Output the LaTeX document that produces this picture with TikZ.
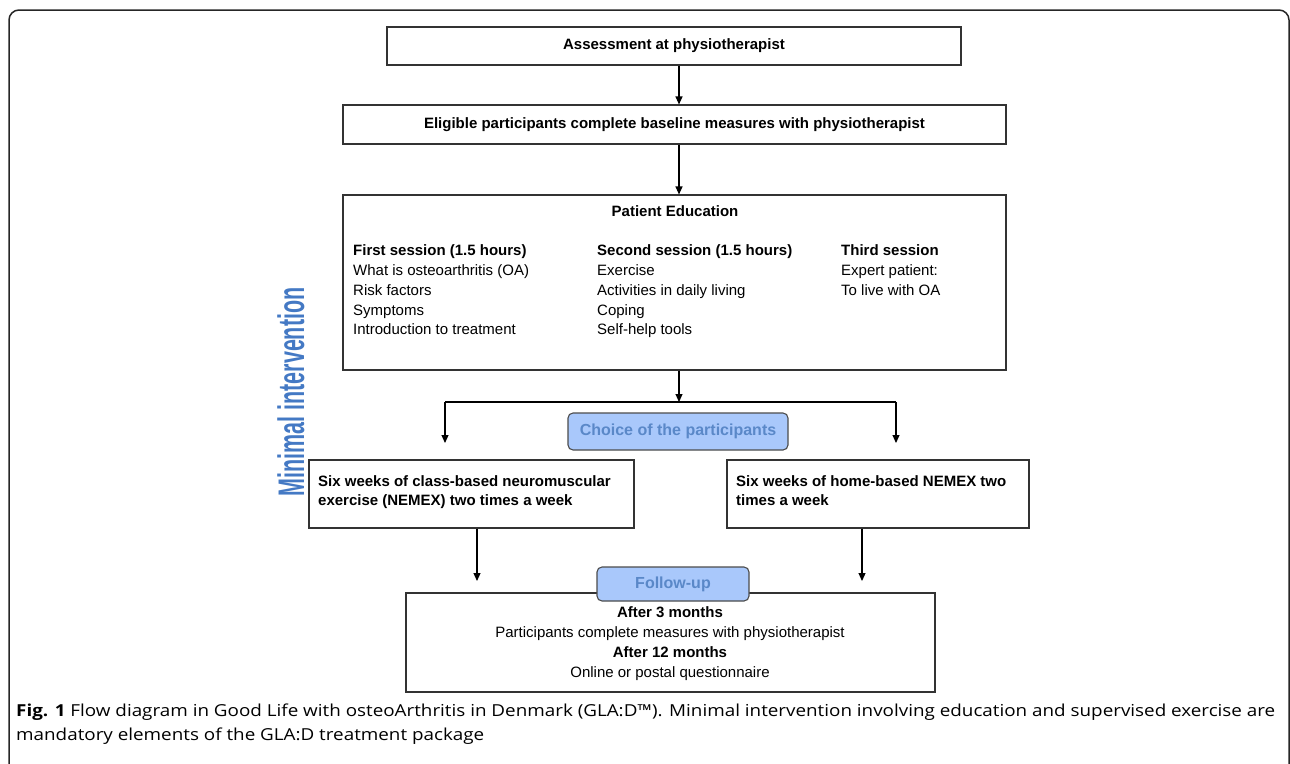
\documentclass[tikz,border=0pt]{standalone}
\usepackage{fontspec}
\setmainfont{Liberation Sans}
\newfontfamily\capfont{Open Sans}
\usetikzlibrary{arrows.meta}
\definecolor{tagfill}{HTML}{A9C8FB}
\definecolor{tagtext}{HTML}{5A88C8}
\definecolor{minblue}{HTML}{4479C4}
\newsavebox\capA
\newlength\capAwd
\begin{document}
\sbox\capA{\capfont\fontsize{16.5}{20}\selectfont\textbf{Fig. 1} Flow diagram in Good Life with osteoArthritis in Denmark (GLA:D™). Minimal intervention involving education and supervised exercise are}%
\setlength\capAwd{\wd\capA}%
\pgfmathsetmacro{\capsc}{1259/\capAwd}%
\begin{tikzpicture}[x=1pt,y=-1pt,
  box/.style={draw=black!80, line width=1.1pt, rectangle, inner sep=0pt},
  tag/.style={draw=black!70, line width=1.1pt, rounded corners=5pt, fill=tagfill, text=tagtext, inner sep=0pt, font=\fontsize{16}{19}\selectfont\bfseries},
  arr/.style={draw=black, line width=1.1pt, -{Triangle[length=8pt,width=7pt]}},
  line/.style={draw=black, line width=1.1pt},
  txt/.style={font=\fontsize{15}{19}\selectfont, anchor=base west, inner sep=0pt},
  btxt/.style={font=\fontsize{15}{19}\selectfont\bfseries, anchor=base west, inner sep=0pt},
  ctxt/.style={font=\fontsize{15}{19}\selectfont, anchor=base, inner sep=0pt},
  cbtxt/.style={font=\fontsize{15}{19}\selectfont\bfseries, anchor=base, inner sep=0pt},
]
\useasboundingbox (0,0) rectangle (1290,763);
\begin{scope}
\clip (0,0) rectangle (1290,763);
\draw[line width=1.5pt, black!85, rounded corners=10pt] (9,10) rectangle (1289,800);
\end{scope}

% boxes
\node[box, minimum width=574pt, minimum height=38pt, font=\fontsize{15}{19}\selectfont\bfseries] (a1) at (674,46) {Assessment at physiotherapist};
\node[box, minimum width=663pt, minimum height=39pt, font=\fontsize{15}{19}\selectfont\bfseries] (a2) at (674.5,124.5) {Eligible participants complete baseline measures with physiotherapist};
\node[box, minimum width=663pt, minimum height=175pt] (pe) at (674.5,282.5) {};

\node[cbtxt] (pet) at (675,216) {Patient Education};
\node[btxt] (h1) at (353,255) {First session (1.5 hours)};
\node[txt] (l11) at (353,275) {What is osteoarthritis (OA)};
\node[txt] (l12) at (353,295) {Risk factors};
\node[txt] (l13) at (353,315) {Symptoms};
\node[txt] (l14) at (353,334) {Introduction to treatment};
\node[btxt] (h2) at (597,255) {Second session (1.5 hours)};
\node[txt] (l21) at (597,275) {Exercise};
\node[txt] (l22) at (597,295) {Activities in daily living};
\node[txt] (l23) at (597,315) {Coping};
\node[txt] (l24) at (597,334) {Self-help tools};
\node[btxt] (h3) at (841,255) {Third session};
\node[txt] (l31) at (841,275) {Expert patient:};
\node[txt] (l32) at (841,295) {To live with OA};

\node[tag, minimum width=220pt, minimum height=37pt] (choice) at (678,431.5) {Choice of the participants};

\node[box, minimum width=325pt, minimum height=68pt] (lb) at (471.5,494) {};
\node[btxt] (lbt1) at (318,486) {Six weeks of class-based neuromuscular};
\node[btxt] (lbt2) at (318,505) {exercise (NEMEX) two times a week};
\node[box, minimum width=302pt, minimum height=68pt] (rb) at (878,494) {};
\node[btxt] (rbt1) at (736,486) {Six weeks of home-based NEMEX two};
\node[btxt] (rbt2) at (736,505) {times a week};

\node[box, minimum width=529pt, minimum height=99pt] (fu) at (670.5,642.5) {};
\node[tag, minimum width=152pt, minimum height=34pt] (fut) at (673,584) {Follow-up};
\node[cbtxt] (f1) at (670,617) {After 3 months};
\node[ctxt] (f2) at (670,637) {Participants complete measures with physiotherapist};
\node[cbtxt] (f3) at (670,657) {After 12 months};
\node[ctxt] (f4) at (670,677) {Online or postal questionnaire};

% connectors
\coordinate (cx) at (679,0);
\coordinate (j) at (679,402);
\coordinate (jl) at (445,402);
\coordinate (jr) at (896,402);
\coordinate (tl) at (445,443);
\coordinate (tr) at (896,443);
\coordinate (bl) at (477,0);
\coordinate (br) at (862,0);
\coordinate (bl2) at (477,581);
\coordinate (br2) at (862,581);
\draw[arr] (a1.south -| cx) -- (a2.north -| cx);
\draw[arr] (a2.south -| cx) -- (pe.north -| cx);
\draw[arr] (pe.south -| cx) -- (j);
\draw[line] (jl) -- (jr);
\draw[arr] (jl) -- (tl);
\draw[arr] (jr) -- (tr);
\draw[arr] (lb.south -| bl) -- (bl2);
\draw[arr] (rb.south -| br) -- (br2);

% side label
\node[rotate=90, text=minblue, inner sep=0pt, font=\fontsize{37}{37}\selectfont\bfseries] (mi) at (291,392) {\resizebox{209pt}{\height}{Minimal intervention}};

% caption
\node[anchor=base west, inner sep=0pt] (cap1) at (16,716) {\scalebox{\capsc}[1]{\usebox\capA}};
\node[anchor=base west, inner sep=0pt] (cap2) at (16,740) {\scalebox{\capsc}[1]{\capfont\fontsize{16.5}{20}\selectfont mandatory elements of the GLA:D treatment package}};
\end{tikzpicture}
\end{document}
